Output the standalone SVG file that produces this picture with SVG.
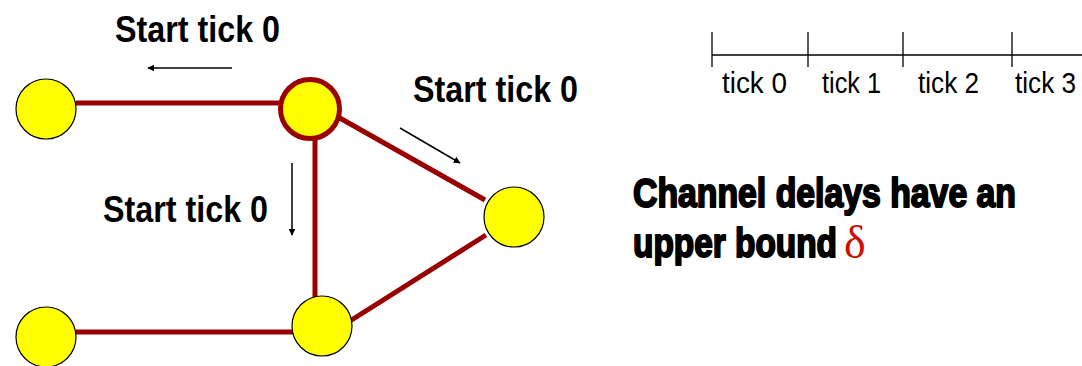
<svg xmlns="http://www.w3.org/2000/svg" width="1082" height="366" viewBox="0 0 1082 366">
  <style>
    .edge { stroke: #990000; stroke-width: 5; fill: none; }
    .node { fill: #ffff00; stroke: #000000; stroke-width: 1.2; }
    .node-hot { fill: #ffff00; stroke: #990000; stroke-width: 5; }
    .lbl { font-family: "Liberation Sans", Arial, sans-serif; font-weight: bold; font-size: 37px; fill: #000; }
    .tick { font-family: "Liberation Sans", Arial, sans-serif; font-size: 30px; fill: #000; }
    .big { font-family: Impact, "Liberation Sans", Arial, sans-serif; font-weight: bold; font-size: 40px; fill: #000; stroke: #000; stroke-width: 2; stroke-linejoin: round; }
    .ptr { stroke: #000; stroke-width: 1.5; fill: none; }
    .axis { stroke: #000; stroke-width: 1.3; fill: none; }
  </style>
  <defs>
    <marker id="head" viewBox="0 0 10 10" refX="9" refY="5" markerWidth="7" markerHeight="7" orient="auto" markerUnits="userSpaceOnUse">
      <path d="M0,0 L10,5 L0,10 z" fill="#000"/>
    </marker>
  </defs>

  <!-- channels -->
  <g id="connectors">
    <line class="edge" x1="76" y1="103" x2="280" y2="103"/>
    <line class="edge" x1="315" y1="138" x2="315" y2="297"/>
    <line class="edge" x1="338" y1="117" x2="485" y2="200"/>
    <line class="edge" x1="486" y1="235" x2="350" y2="321"/>
    <line class="edge" x1="76" y1="332" x2="293" y2="332"/>
  </g>

  <!-- direction pointers -->
  <g id="pointers">
    <line class="ptr" x1="232" y1="68" x2="148" y2="68" marker-end="url(#head)"/>
    <line class="ptr" x1="400" y1="128" x2="460" y2="163" marker-end="url(#head)"/>
    <line class="ptr" x1="292" y1="163" x2="292" y2="235" marker-end="url(#head)"/>
  </g>

  <g id="node-a"><circle class="node" cx="46" cy="109" r="30"/></g>
  <g id="node-b"><circle class="node-hot" cx="310" cy="109" r="29.5"/></g>
  <g id="node-c"><circle class="node" cx="514" cy="217" r="30"/></g>
  <g id="node-d"><circle class="node" cx="322" cy="326" r="30"/></g>
  <g id="node-e"><circle class="node" cx="46" cy="337" r="30"/></g>

  <!-- start labels -->
  <g id="labels">
    <text class="lbl" x="115" y="42" textLength="165" lengthAdjust="spacingAndGlyphs">Start tick 0</text>
    <text class="lbl" x="413" y="102" textLength="165" lengthAdjust="spacingAndGlyphs">Start tick 0</text>
    <text class="lbl" x="103" y="222" textLength="165" lengthAdjust="spacingAndGlyphs">Start tick 0</text>
  </g>

  <!-- time axis -->
  <g id="timeline">
    <line class="axis" x1="712" y1="55" x2="1082" y2="55"/>
    <line class="axis" x1="712" y1="32" x2="712" y2="67"/>
    <line class="axis" x1="808" y1="32" x2="808" y2="67"/>
    <line class="axis" x1="903" y1="32" x2="903" y2="67"/>
    <line class="axis" x1="1012" y1="32" x2="1012" y2="67"/>
    <text class="tick" x="722" y="93" textLength="65" lengthAdjust="spacingAndGlyphs">tick 0</text>
    <text class="tick" x="822" y="93" textLength="59" lengthAdjust="spacingAndGlyphs">tick 1</text>
    <text class="tick" x="918" y="93" textLength="61" lengthAdjust="spacingAndGlyphs">tick 2</text>
    <text class="tick" x="1015" y="93" textLength="61" lengthAdjust="spacingAndGlyphs">tick 3</text>
  </g>

  <!-- statement -->
  <g id="statement">
    <text class="big" x="633" y="207" textLength="383" lengthAdjust="spacingAndGlyphs">Channel delays have an</text>
    <text class="big" x="633" y="257" textLength="204" lengthAdjust="spacingAndGlyphs">upper bound</text>
    <text x="844" y="258" font-family="'Liberation Serif', 'Times New Roman', serif" font-size="46" fill="#cc1100">δ</text>
  </g>
</svg>
